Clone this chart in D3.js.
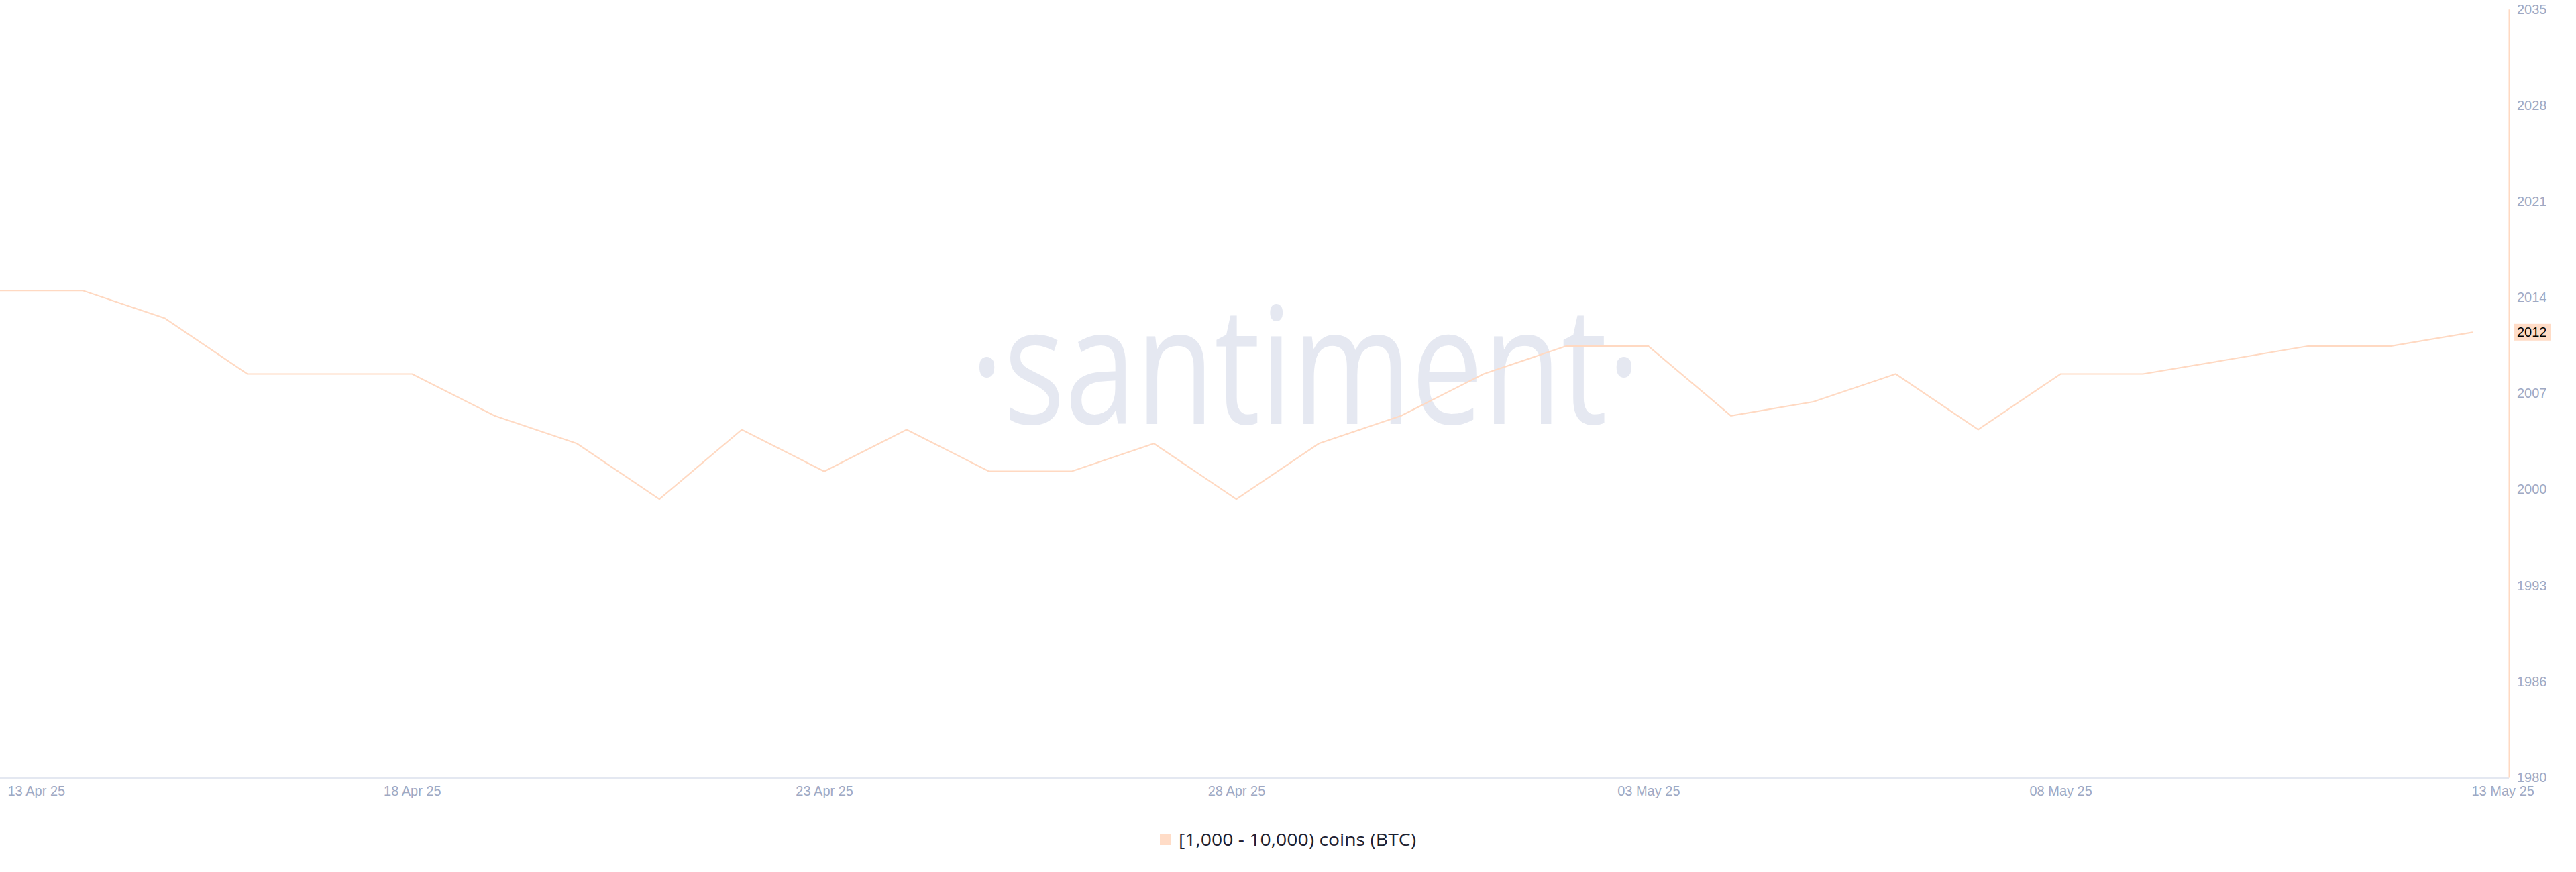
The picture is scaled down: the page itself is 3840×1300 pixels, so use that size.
<!DOCTYPE html>
<html>
<head>
<meta charset="utf-8">
<script src="https://cdn.jsdelivr.net/npm/d3@7"></script>
<style>
  html, body { margin: 0; padding: 0; background: #ffffff; }
  svg { display: block; }
</style>
</head>
<body>
<div id="chart"></div>
<script>
// ---- data ----
const dates = [
  "2025-04-13","2025-04-14","2025-04-15","2025-04-16","2025-04-17","2025-04-18",
  "2025-04-19","2025-04-20","2025-04-21","2025-04-22","2025-04-23","2025-04-24",
  "2025-04-25","2025-04-26","2025-04-27","2025-04-28","2025-04-29","2025-04-30",
  "2025-05-01","2025-05-02","2025-05-03","2025-05-04","2025-05-05","2025-05-06",
  "2025-05-07","2025-05-08","2025-05-09","2025-05-10","2025-05-11","2025-05-12",
  "2025-05-13"
];
const holders = [
  2015, 2015, 2013, 2009, 2009, 2009,
  2006, 2004, 2000, 2005, 2002, 2005,
  2002, 2002, 2004, 2000, 2004, 2006,
  2009, 2011, 2011, 2006, 2007, 2009,
  2005, 2009, 2009, 2010, 2011, 2011,
  2012
];
const seriesName = "[1,000 - 10,000) coins (BTC)";
const xTickDates = ["2025-04-13","2025-04-18","2025-04-23","2025-04-28","2025-05-03","2025-05-08","2025-05-13"];
const xTickLabels = ["13 Apr 25","18 Apr 25","23 Apr 25","28 Apr 25","03 May 25","08 May 25","13 May 25"];
const yDomain = [1980, 2035.22];
const yTickLabels = [1980, 1986, 1993, 2000, 2007, 2014, 2021, 2028, 2035];
const watermarkText = "\u00B7santiment\u00B7";

// ---- styles ----
const W = 3840, H = 1300;
const lineColor = "#ffd9c2";
const badgeColor = "#ffdcc7";
const tickColor = "#9ea9c4";
const axisColor = "#e4e8f1";
const wmColor = "#e5e8f1";

const parse = d3.utcParse("%Y-%m-%d");
const data = dates.map((d, i) => ({ date: parse(d), value: holders[i] }));

const svg = d3.select("#chart").append("svg")
  .attr("width", W).attr("height", H)
  .style("background", "#ffffff");

const x = d3.scaleUtc()
  .domain([parse(dates[0]), parse(dates[dates.length - 1])])
  .range([0, 3686]);
const y = d3.scaleLinear().domain(yDomain).range([1159, 13.7]);

const axisX = 3740;

// watermark
svg.append("text")
  .attr("x", 1446)
  .attr("y", 632)
  .attr("textLength", 1000)
  .attr("lengthAdjust", "spacingAndGlyphs")
  .attr("font-family", "'Open Sans', sans-serif")
  .attr("font-size", 243)
  .attr("fill", wmColor)
  .text(watermarkText);

// x baseline
svg.append("line")
  .attr("x1", 0).attr("x2", axisX)
  .attr("y1", 1160).attr("y2", 1160)
  .attr("stroke", axisColor).attr("stroke-width", 2);

// x axis
const xAxis = d3.axisBottom(x)
  .tickValues(xTickDates.map(parse))
  .tickFormat((d, i) => xTickLabels[i])
  .tickSize(0)
  .tickPadding(12);
const gx = svg.append("g").attr("transform", "translate(0,1160)").call(xAxis);
gx.select(".domain").remove();
gx.selectAll("text")
  .attr("font-family", "'Liberation Sans', Arial, sans-serif")
  .attr("font-size", 20)
  .attr("fill", tickColor)
  .each(function(d, i) {
    if (i === 0) d3.select(this).attr("text-anchor", "start").attr("x", 11);
    if (i === xTickLabels.length - 1) d3.select(this).attr("text-anchor", "start").attr("x", -2);
  });

// y axis (right)
const yTickVals = yTickLabels.map((_, i) => yDomain[0] + i * (yDomain[1] - yDomain[0]) / (yTickLabels.length - 1));
const yAxis = d3.axisRight(y)
  .tickValues(yTickVals)
  .tickFormat((d, i) => yTickLabels[i])
  .tickSize(0)
  .tickPadding(12);
const gy = svg.append("g").attr("transform", `translate(${axisX},0)`).call(yAxis);
gy.select(".domain").attr("stroke", lineColor).attr("stroke-width", 2);
gy.selectAll("text")
  .attr("font-family", "'Liberation Sans', Arial, sans-serif")
  .attr("font-size", 20)
  .attr("fill", tickColor);

// series line
const line = d3.line().x(d => x(d.date)).y(d => y(d.value));
svg.append("path")
  .datum(data)
  .attr("d", line)
  .attr("fill", "none")
  .attr("stroke", lineColor)
  .attr("stroke-width", 2.2)
  .attr("stroke-linejoin", "miter");

// last value badge
const last = data[data.length - 1];
const by = y(last.value);
svg.append("rect")
  .attr("x", axisX + 7).attr("y", by - 12.5)
  .attr("width", 55).attr("height", 25)
  .attr("fill", badgeColor);
svg.append("text")
  .attr("x", axisX + 12).attr("y", by)
  .attr("dy", "0.35em")
  .attr("font-family", "'Liberation Sans', Arial, sans-serif")
  .attr("font-size", 20)
  .attr("fill", "#000000")
  .text(d3.format("d")(last.value));

// legend
const lg = svg.append("g");
lg.append("rect")
  .attr("x", 1729).attr("y", 1243)
  .attr("width", 17).attr("height", 17)
  .attr("fill", badgeColor);
lg.append("text")
  .attr("x", 1757).attr("y", 1252)
  .attr("dy", "0.35em")
  .attr("font-family", "'Open Sans', Lato, sans-serif")
  .attr("font-size", 25)
  .attr("textLength", 354)
  .attr("lengthAdjust", "spacingAndGlyphs")
  .attr("fill", "#1c2030")
  .text(seriesName);
</script>
</body>
</html>
